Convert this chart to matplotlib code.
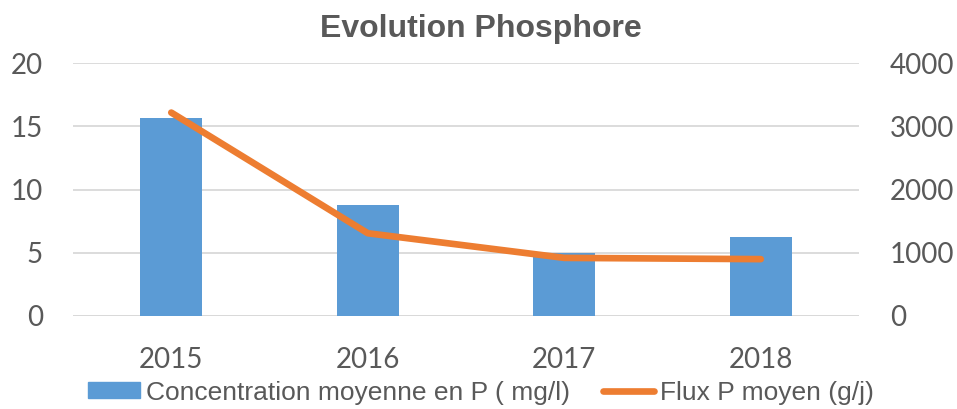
import matplotlib
matplotlib.use("Agg")
import matplotlib.pyplot as plt
from matplotlib.lines import Line2D
from matplotlib.patches import Patch
import numpy as np

years = ["2015", "2016", "2017", "2018"]
concentration = [15.7, 8.8, 5.0, 6.25]      # mg/l
flux = [3220, 1310, 920, 900]                # g/j
left_ticks = [0, 5, 10, 15, 20]
right_ticks = [0, 1000, 2000, 3000, 4000]

BAR_COLOR = "#5B9BD5"
LINE_COLOR = "#ED7D31"
GRID_COLOR = "#D9D9D9"
TEXT_COLOR = "#595959"
TICK_FONT = ["Lato", "DejaVu Sans"]
ARIAL = ["Liberation Sans", "DejaVu Sans"]

fig = plt.figure(figsize=(9.57, 4.09), dpi=100)
ax = fig.add_axes([0.0763, 0.2274, 0.8213, 0.6178])
ax2 = ax.twinx()

x = np.arange(len(years))
ax.bar(x, concentration, width=0.315, color=BAR_COLOR, zorder=2)
ax2.plot(x, flux, color=LINE_COLOR, lw=4.8, solid_capstyle="round",
         solid_joinstyle="round", zorder=3)

ax.set_xlim(-0.5, len(years) - 0.5)
ax.set_ylim(0, 20)
ax2.set_ylim(0, 4000)
ax.set_yticks(left_ticks)
ax2.set_yticks(right_ticks)
ax.set_xticks(x)
ax.set_xticklabels(years)

ax.yaxis.grid(True, color=GRID_COLOR, lw=1.3, zorder=0)
ax.set_axisbelow(True)
for a in (ax, ax2):
    for s in a.spines.values():
        s.set_visible(False)
    a.tick_params(length=0, labelsize=20, labelcolor=TEXT_COLOR)
    for lab in a.get_xticklabels() + a.get_yticklabels():
        lab.set_family(TICK_FONT)
ax.tick_params(axis="y", pad=21.6)
ax2.tick_params(axis="y", pad=22.3)
ax.tick_params(axis="x", pad=22)
ax.axhline(0, color=GRID_COLOR, lw=1.3, zorder=1)

fig.text(0.503, 0.929, "Evolution Phosphore", ha="center", va="center",
         fontsize=23, fontweight="bold", color=TEXT_COLOR, family=ARIAL)

handles = [Patch(color=BAR_COLOR),
           Line2D([0], [0], color=LINE_COLOR, lw=4.8, solid_capstyle="round")]
labels = ["Concentration moyenne en P ( mg/l)", "Flux P moyen (g/j)"]
fig.legend(handles, labels, loc="center", bbox_to_anchor=(0.5026, 0.04), ncol=2,
           frameon=False, prop={"family": ARIAL, "size": 19},
           labelcolor=TEXT_COLOR, handlelength=1.96, handletextpad=0.22,
           columnspacing=1.25, handleheight=0.55, borderpad=0, borderaxespad=0)

fig.savefig("out.png", dpi=100)
